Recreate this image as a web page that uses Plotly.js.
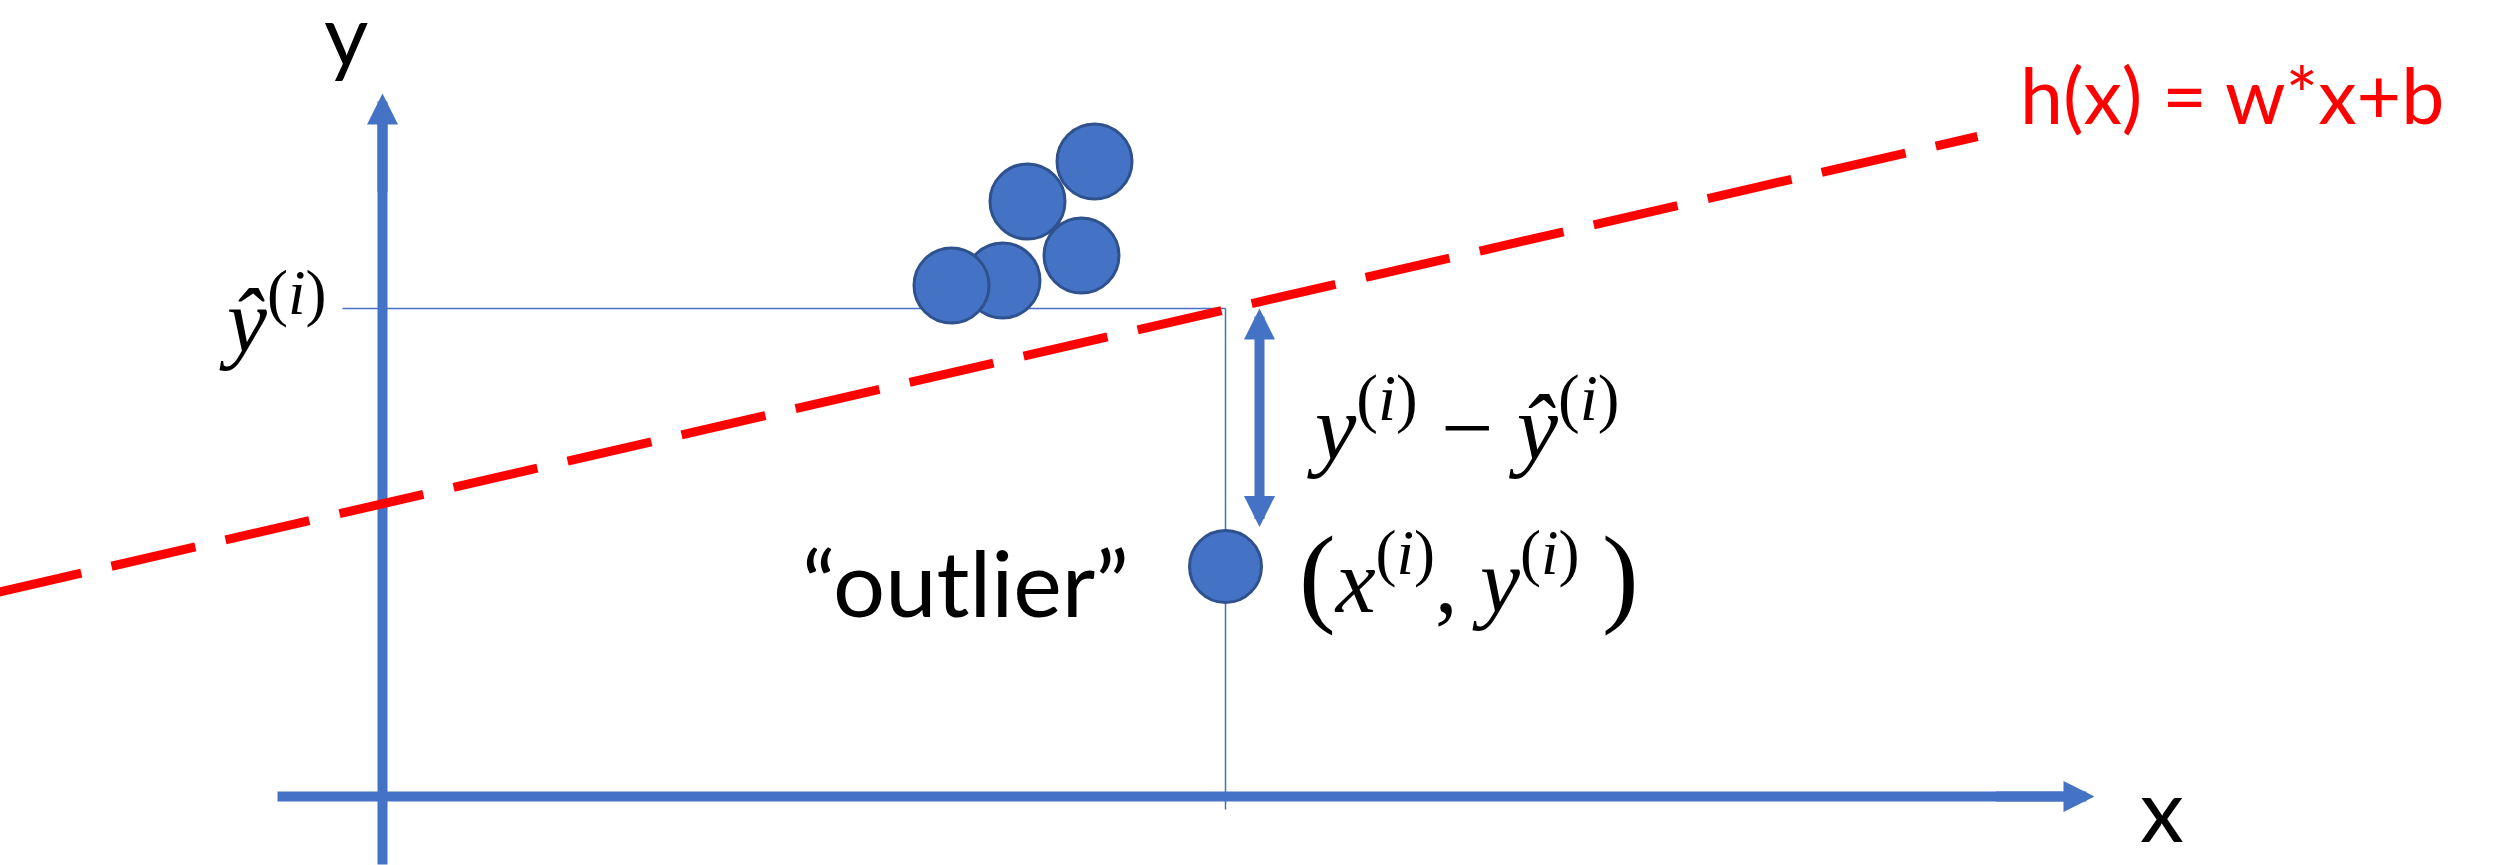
<!DOCTYPE html>
<html>
<head>
<meta charset="utf-8">
<script src="https://cdn.plot.ly/plotly-3.0.1.min.js"></script>
<style>html,body{margin:0;padding:0;background:#fff;}#chart{width:2496px;height:865px;}</style>
</head>
<body>
<div id="chart"></div>
<script>
// ---- data (diagram units: 1 unit = 100 screen px, origin at axes crossing) ----
const axisXExtent = [-1.05, 17.12];      // horizontal axis: tail, arrow tip
const axisYExtent = [-0.68, 7.03];       // vertical axis: tail, arrow tip
const fitLineX = [-3.85, 15.95];         // h(x) = w*x + b, dashed
const fitLineY = [2.04, 6.60];
const clusterX = [6.20, 5.69, 6.99, 6.45, 7.12];
const clusterY = [5.16, 5.11, 5.41, 5.95, 6.35];
const outlierX = [8.43];
const outlierY = [2.30];
const yHatValue = 4.88;                  // prediction at outlier x
const guideLeftX = -0.40;                // left end of the y-hat guide
const guideBottomY = -0.13;              // lower end of the vertical guide
const residualX = 8.77;                  // residual double arrow
const residualTop = 4.88;
const residualBottom = 2.68;

const BLUE = '#4472C4', DARK = '#2F528F', RED = '#FF0000';
const SANS = 'Lato, "Open Sans", sans-serif';
const SERIF = '"Liberation Serif", "DejaVu Serif", serif';

const traces = [
  // thin guides
  {x: [guideLeftX, outlierX[0]], y: [yHatValue, yHatValue], mode: 'lines',
   line: {color: BLUE, width: 1.5}, hoverinfo: 'skip'},
  {x: [outlierX[0], outlierX[0]], y: [yHatValue, guideBottomY], mode: 'lines',
   line: {color: BLUE, width: 1.5}, hoverinfo: 'skip'},
  // axis shafts
  {x: [axisXExtent[0], axisXExtent[1] - 0.2], y: [0, 0], mode: 'lines',
   line: {color: BLUE, width: 10}, hoverinfo: 'skip'},
  {x: [0, 0], y: [axisYExtent[0], axisYExtent[1] - 0.2], mode: 'lines',
   line: {color: BLUE, width: 10}, hoverinfo: 'skip'},
  // regression line
  {x: fitLineX, y: fitLineY, mode: 'lines',
   line: {color: RED, width: 9, dash: '86px,31px'}, hoverinfo: 'skip'},
  // points
  {x: clusterX, y: clusterY, mode: 'markers',
   marker: {size: 75, color: BLUE, line: {color: DARK, width: 3}}, hoverinfo: 'skip'},
  {x: outlierX, y: outlierY, mode: 'markers',
   marker: {size: 72, color: BLUE, line: {color: DARK, width: 3}}, hoverinfo: 'skip'}
];

function arrow(x, y, ax, ay, extra) {
  return Object.assign({x: x, y: y, ax: ax, ay: ay, xref: 'x', yref: 'y', axref: 'x', ayref: 'y',
    text: '', showarrow: true, arrowhead: 2, arrowsize: 0.62, arrowwidth: 10, arrowcolor: BLUE,
    standoff: 0, startstandoff: 0}, extra || {});
}
function label(x, y, text, font) {
  return {x: x, y: y, xref: 'x', yref: 'y', text: text, showarrow: false,
    xanchor: 'center', yanchor: 'middle', font: font};
}

const mathFont = {family: SERIF, size: 90, color: '#000'};
const annotations = [
  arrow(axisXExtent[1], 0, axisXExtent[1] - 1.0, 0),
  arrow(0, axisYExtent[1], 0, axisYExtent[1] - 1.0),
  arrow(residualX, residualTop, residualX, residualBottom,
        {arrowside: 'end+start', startarrowhead: 2, startarrowsize: 0.62}),
  label(-0.365, 7.64, 'y', {family: SANS, size: 86, color: '#000'}),
  label(17.795, -0.11, 'x', {family: SANS, size: 88, color: '#000'}),
  label(5.83, 2.15, '\u201Coutlier\u201D', {family: SANS, size: 92, color: '#000'}),
  label(18.49, 7.03, 'h(x) = w*x+b', {family: SANS, size: 77, color: RED}),
  label(-1.1, 4.82, '<i>\u0177</i><sup>(<i>i</i>)</sup>', mathFont),
  label(10.80, 3.76, '<i>y</i><sup>(<i>i</i>)</sup> \u2212 <i>\u0177</i><sup>(<i>i</i>)</sup>', {family: SERIF, size: 93, color: '#000'}),
  label(10.86, 2.22, '<span style="font-size:110px">(</span><i>x</i><sup>(<i>i</i>)</sup>, <i>y</i><sup>(<i>i</i>)</sup> <span style="font-size:110px">)</span>', mathFont)
];

const layout = {
  width: 2496, height: 865,
  margin: {l: 0, r: 0, t: 0, b: 0, pad: 0},
  paper_bgcolor: '#fff', plot_bgcolor: '#fff',
  showlegend: false,
  xaxis: {range: [-3.825, 21.135], visible: false, showgrid: false, zeroline: false, fixedrange: true},
  yaxis: {range: [-0.685, 7.965], visible: false, showgrid: false, zeroline: false, fixedrange: true},
  annotations: annotations
};

Plotly.newPlot('chart', traces, layout, {displayModeBar: false, staticPlot: true});
</script>
</body>
</html>
